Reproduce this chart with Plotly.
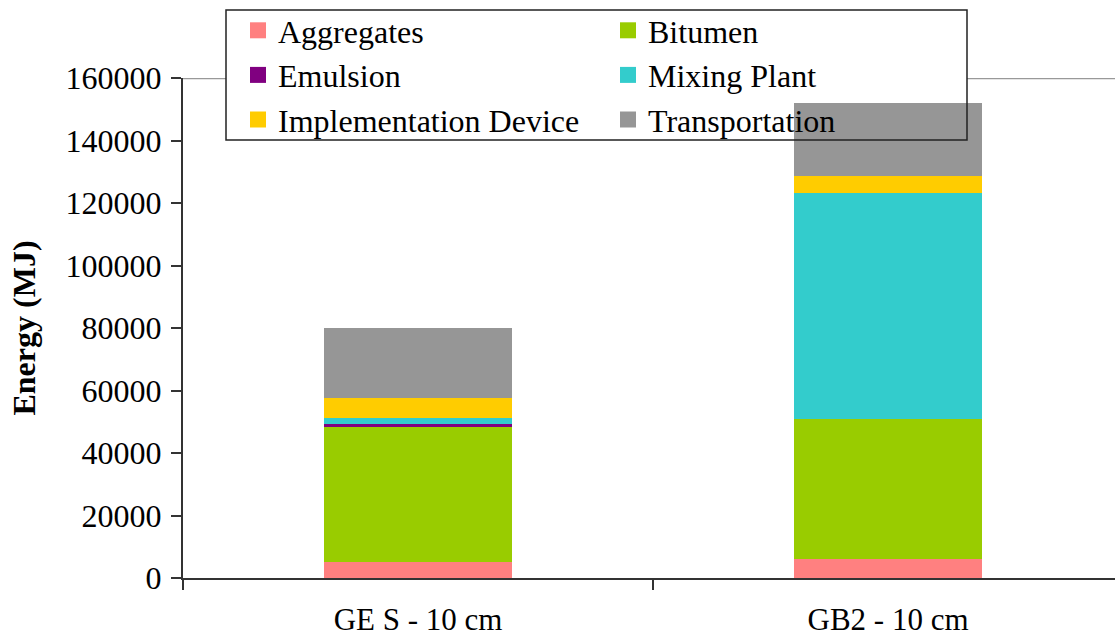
import plotly.graph_objects as go

categories = ["GE S - 10 cm", "GB2 - 10 cm"]
series_names = ["Aggregates", "Bitumen", "Emulsion", "Mixing Plant",
                "Implementation Device", "Transportation"]
aggregates = [5100, 6000]
bitumen = [43200, 44900]
emulsion = [1000, 0]
mixing_plant = [2000, 72300]
implementation_device = [6400, 5500]
transportation = [22400, 23400]
y_ticks = [0, 20000, 40000, 60000, 80000, 100000, 120000, 140000, 160000]

series_values = [aggregates, bitumen, emulsion, mixing_plant,
                 implementation_device, transportation]
colors = ["#FF8080", "#99CC00", "#800080", "#33CCCC", "#FFCC00", "#969696"]

FONT = "Liberation Serif"
FS = 32

W, H = 1115, 641
L, R, T, B = 183, 0, 78, 641 - 578
pw, ph = W - L - R, H - T - B


def px_x(p):
    return (p - L) / pw


def px_y(p):
    return (H - B - p) / ph


fig = go.Figure()
for name, vals, col in zip(series_names, series_values, colors):
    fig.add_trace(go.Bar(x=categories, y=vals, name=name,
                         marker=dict(color=col, line=dict(width=0)),
                         width=0.4, showlegend=False, legendgroup=name))
# legend-only entries with larger square swatches
for name, col in zip(series_names, colors):
    fig.add_trace(go.Scatter(x=[None], y=[None], mode="markers", name=name,
                             legendgroup=name,
                             marker=dict(symbol="square", size=19, color=col)))

shapes = [
    dict(type="line", xref="paper", yref="y", x0=0, x1=1, y0=160000, y1=160000,
         line=dict(color="#999999", width=2.5), layer="below"),
    dict(type="rect", xref="paper", yref="paper",
         x0=px_x(226), x1=px_x(967), y0=px_y(140), y1=px_y(10),
         fillcolor="white", line=dict(width=0), layer="below"),
    dict(type="rect", xref="paper", yref="paper",
         x0=px_x(226), x1=px_x(967), y0=px_y(140), y1=px_y(10),
         fillcolor="rgba(0,0,0,0)", line=dict(color="#222222", width=1.5),
         layer="above"),
]

fig.update_layout(
    width=W, height=H,
    margin=dict(l=L, r=R, t=T, b=B, autoexpand=False),
    paper_bgcolor="white", plot_bgcolor="white",
    barmode="stack",
    font=dict(family=FONT, size=FS, color="black"),
    showlegend=True,
    legend=dict(orientation="h", traceorder="normal", itemsizing="trace",
                xref="container", yref="container",
                x=238 / W, xanchor="left", y=1 - 3 / H, yanchor="top",
                bgcolor="rgba(0,0,0,0)", borderwidth=0,
                entrywidth=325, entrywidthmode="pixels",
                font=dict(family=FONT, size=FS, color="black")),
    shapes=shapes,
)

fig.update_xaxes(range=[-0.5, -0.5 + pw / 470.0], tickson="boundaries",
                 ticks="outside", ticklen=10, tickwidth=2, tickcolor="#333333",
                 showline=True, linecolor="#333333", linewidth=2,
                 showgrid=False, zeroline=False,
                 tickfont=dict(family=FONT, size=31, color="black"),
                 ticklabelstandoff=13)
fig.update_yaxes(range=[0, 160000], tickvals=y_ticks,
                 ticktext=[str(v) for v in y_ticks],
                 ticks="outside", ticklen=10, tickwidth=2, tickcolor="#333333",
                 showline=True, linecolor="#333333", linewidth=2,
                 showgrid=False, zeroline=False,
                 tickfont=dict(family=FONT, size=FS, color="black"),
                 ticklabelstandoff=3,
                 title=dict(text="<b>Energy (MJ)</b>", standoff=20,
                            font=dict(family=FONT, size=FS, color="black")))

fig.write_html("out.html",
               config={"displayModeBar": False},
               post_script="document.body.style.margin='0px';"
                           "document.body.style.overflow='hidden';")
